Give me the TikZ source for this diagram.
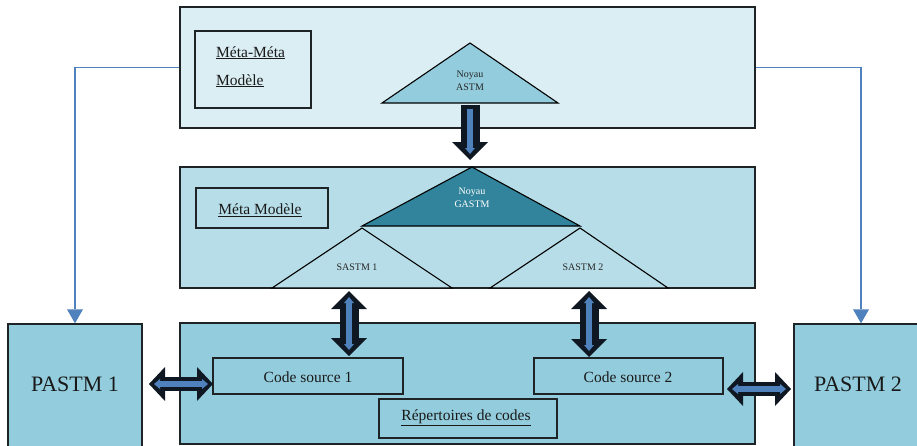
\documentclass[tikz,border=0pt]{standalone}
\usepackage{fontspec}
\setmainfont{Liberation Serif}
\usetikzlibrary{arrows.meta}

\definecolor{paleblue}{HTML}{DAEEF3}
\definecolor{midblue}{HTML}{B7DEE8}
\definecolor{aquablue}{HTML}{93CDDD}
\definecolor{gastmfill}{HTML}{31849B}
\definecolor{linkblue}{HTML}{4F81BD}
\definecolor{ink}{HTML}{0F1822}
\definecolor{edge}{HTML}{1E2326}

\tikzset{
  panel/.style={draw=edge, line width=1.3pt, inner sep=0pt},
  tagbox/.style={draw=edge, line width=1.3pt, inner sep=0pt},
  tri/.style={draw=black, line width=1.1pt, line join=miter},
  link/.style={draw=linkblue, line width=1.6pt,
    -{Triangle[length=14pt,width=16pt,line width=0pt]}},
  bigtxt/.style={font=\fontsize{15.5}{18}\selectfont, text=black!90},
  smalltxt/.style={font=\fontsize{10}{12.5}\selectfont, align=center, text=black!85},
  % vertical block arrows
  fatshaft/.style={draw=ink, line width=19pt},
  fathead/.tip={Triangle[length=18pt,width=36pt,line width=0pt]},
  % horizontal block arrows
  flatshaft/.style={draw=ink, line width=14pt},
  flathead/.tip={Triangle[length=16pt,width=34pt,line width=0pt]},
  thinshaft/.style={draw=linkblue, line width=6.5pt},
  thinhead/.tip={Triangle[length=6pt,width=10pt,line width=0pt]},
}

\begin{document}
\begin{tikzpicture}[x=1pt,y=-1pt]
\useasboundingbox (0,0) rectangle (917,445);
\clip (0,0) rectangle (917,445);
\fill[white] (0,0) rectangle (917,445);

% ---- three stacked panels ----
\node[panel, fill=paleblue, minimum width=575pt, minimum height=121pt] (top) at (467.5,67.5) {};
\node[panel, fill=midblue,  minimum width=575pt, minimum height=121pt] (mid) at (467.5,227.5) {};
\node[panel, fill=aquablue, minimum width=575pt, minimum height=121pt] (bot) at (467.5,383.5) {};

% ---- side platforms ----
\node[panel, fill=aquablue, minimum width=134pt, minimum height=124pt] (pastma) at (75,386) {};
\node[panel, fill=aquablue, minimum width=134pt, minimum height=124pt] (pastmb) at (861,386) {};
\node[font=\fontsize{22}{25}\selectfont, text=black!90] (pastmaL) at (75,384) {PASTM 1};
\node[font=\fontsize{22}{25}\selectfont, text=black!90] (pastmbL) at (858,384) {PASTM 2};

% ---- top panel content ----
\node[tagbox, fill=paleblue, minimum width=116pt, minimum height=77pt] (mmbox) at (253,69.5) {};
\node[bigtxt, anchor=base west, inner sep=0pt] (mm1) at (216,57) {\underline{Méta-Méta}};
\node[bigtxt, anchor=base west, inner sep=0pt] (mm2) at (216,85) {\underline{Modèle}};

\draw[tri, fill=aquablue] (470,43) -- (558,103) -- (382,103) -- cycle;
\node[smalltxt] (astm) at (470,81) {Noyau\\ASTM};
\coordinate (astmfoot) at (470,105);

% ---- middle panel content ----
\node[tagbox, fill=midblue, minimum width=132pt, minimum height=40pt] (mbox) at (262,208) {};
\node[bigtxt] (mlabel) at (260,210) {\underline{Méta Modèle}};

\draw[tri, fill=gastmfill] (472,167) -- (580,226) -- (362,226) -- cycle;
\node[smalltxt, text=white] (gastm) at (472,198) {Noyau\\GASTM};
\coordinate (gastmtop) at (470,160);

\draw[tri, fill=midblue] (362,228) -- (452,288) -- (272,288) -- cycle;
\draw[tri, fill=midblue] (580,228) -- (668,288) -- (490,288) -- cycle;
\node[smalltxt] (sa) at (357,267) {SASTM 1};
\node[smalltxt] (sb) at (583,267) {SASTM 2};
\coordinate (safoot) at (349,291);
\coordinate (sbfoot) at (589,291);

% ---- bottom panel content ----
\node[tagbox, fill=aquablue, minimum width=190pt, minimum height=36pt] (codea) at (308,376) {};
\node[tagbox, fill=aquablue, minimum width=189pt, minimum height=36pt] (codeb) at (628.5,376) {};
\node[tagbox, fill=aquablue, minimum width=178pt, minimum height=39pt] (repo) at (468,418.5) {};
\node[bigtxt] (codeaL) at (308,377) {Code source 1};
\node[bigtxt] (codebL) at (628,377) {Code source 2};
\node[bigtxt] (repoL) at (466,418) {\underline{Répertoires de codes}};

\coordinate (codeatop) at (349,356);
\coordinate (codebtop) at (589,357);
\coordinate (pastmaR) at (149,384);
\coordinate (codeaW) at (213,384);
\coordinate (codebE) at (727,389);
\coordinate (pastmbW) at (791,389);

% ---- thin blue links to the platforms ----
\draw[link] (top.west) -| (pastma.north);
\draw[link] (top.east) -| (pastmb.north);

% ---- block arrows ----
\draw[fatshaft, -fathead] (astmfoot) -- (gastmtop);
\draw[thinshaft, -thinhead, shorten >=6pt, shorten <=4pt] (astmfoot) -- (gastmtop);

\draw[fatshaft, fathead-fathead] (safoot) -- (codeatop);
\draw[thinshaft, thinhead-thinhead, shorten >=6pt, shorten <=6pt] (safoot) -- (codeatop);

\draw[fatshaft, fathead-fathead] (sbfoot) -- (codebtop);
\draw[thinshaft, thinhead-thinhead, shorten >=6pt, shorten <=6pt] (sbfoot) -- (codebtop);

\draw[flatshaft, flathead-flathead] (pastmaR) -- (codeaW);
\draw[thinshaft, line width=5.5pt, thinhead-thinhead, shorten >=5pt, shorten <=5pt] (pastmaR) -- (codeaW);

\draw[flatshaft, flathead-flathead] (codebE) -- (pastmbW);
\draw[thinshaft, line width=5.5pt, thinhead-thinhead, shorten >=5pt, shorten <=5pt] (codebE) -- (pastmbW);
\end{tikzpicture}
\end{document}
